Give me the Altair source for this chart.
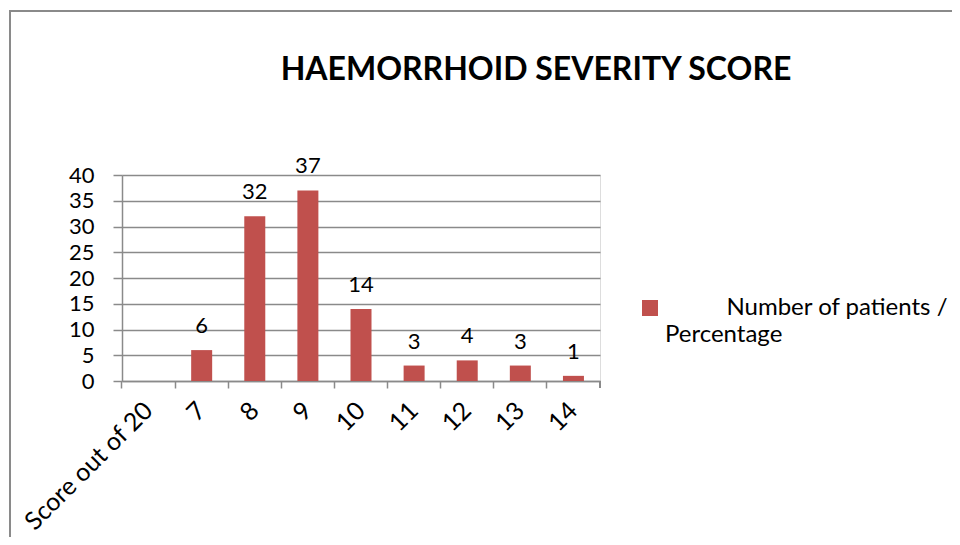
import altair as alt
import pandas as pd

categories = ["Score out of 20", "7", "8", "9", "10", "11", "12", "13", "14"]
patients = [None, 6, 32, 37, 14, 3, 4, 3, 1]
series_name = "Number of patients / Percentage"
y_ticks = [0, 5, 10, 15, 20, 25, 30, 35, 40]
title_text = "HAEMORRHOID SEVERITY SCORE"

df = pd.DataFrame({"score": categories, "patients": patients, "series": [series_name] * len(categories)})

FONT = "Lato"
GRAY = "#8a8a8a"
BAR = "#C0504D"

x_enc = alt.X(
    "score:N",
    sort=categories,
    scale=alt.Scale(paddingInner=0.6, paddingOuter=0.3),
    axis=alt.Axis(
        title=None, labelAngle=-45, labelAlign="right", labelBaseline="middle",
        labelFontSize=25, labelFont=FONT, labelColor="black", labelPadding=18,
        bandPosition=-0.75, tickSize=7, tickColor=GRAY, tickWidth=1.5,
        domainColor=GRAY, domainWidth=1.5, labelOverlap=False,
    ),
)
y_enc = alt.Y(
    "patients:Q",
    scale=alt.Scale(domain=[0, 40], nice=False),
    axis=alt.Axis(
        title=None, values=y_ticks, labelFontSize=22, labelFont=FONT, labelColor="black",
        labelPadding=19, tickSize=9, tickColor=GRAY, tickWidth=1.5, labelOverlap=False,
        grid=True, gridColor=GRAY, gridWidth=1.5, domainColor=GRAY, domainWidth=1.5,
    ),
)

zwsp = "\u200b"
nbsp = "\u00a0"
label_expr = "['" + zwsp + nbsp * 10 + "Number of patients /', 'Percentage']"

bars = alt.Chart(df).mark_bar(size=21).encode(
    x=x_enc,
    y=y_enc,
    color=alt.Color(
        "series:N",
        scale=alt.Scale(range=[BAR]),
        legend=alt.Legend(
            title=None, orient="none", legendX=516, legendY=121,
            symbolType="square", symbolSize=256, symbolStrokeWidth=0,
            labelFontSize=24, labelFont=FONT, labelColor="black",
            labelExpr=label_expr, labelLimit=0, labelOffset=3, labelBaseline="middle",
        ),
    ),
)

labels = alt.Chart(df).mark_text(
    baseline="bottom", dy=-12, fontSize=22, font=FONT, color="black"
).encode(
    x=x_enc,
    y=y_enc,
    text=alt.Text("patients:Q"),
)

frame = alt.Chart(df).mark_rect(fill=None, stroke=GRAY, strokeWidth=1.5).encode(
    x=alt.value(-112), x2=alt.value(1000), y=alt.value(-164), y2=alt.value(700)
)

end_tick = alt.Chart(df).mark_rule(color=GRAY, strokeWidth=1.5).encode(
    x=alt.value(478), y=alt.value(206), y2=alt.value(213)
)

chart = alt.layer(frame, bars, labels, end_tick).properties(
    width=478, height=206,
    title=alt.TitleParams(
        title_text, font=FONT, fontSize=32, fontWeight="bold", color="black",
        anchor="middle", dx=175, offset=0, dy=102, baseline="alphabetic",
    ),
    autosize=alt.AutoSizeParams(type="none"),
    padding={"left": 114, "top": 167, "right": 352, "bottom": 156},
).configure_view(stroke=None).configure(
    style={"guide-label": {"lineHeight": 27}}
)

chart.save("out.html", embed_options={"renderer": "svg", "actions": False})
